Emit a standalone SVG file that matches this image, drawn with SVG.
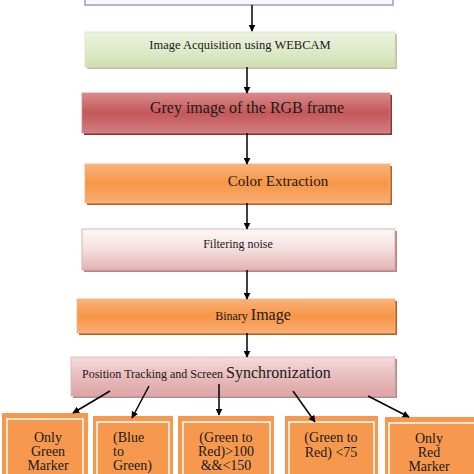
<svg xmlns="http://www.w3.org/2000/svg" width="474" height="474" viewBox="0 0 474 474">
<defs>
<linearGradient id="gGreen" x1="0" y1="0" x2="0" y2="1"><stop offset="0" stop-color="#edf3e1"/><stop offset="0.6" stop-color="#dde8c6"/><stop offset="1" stop-color="#cfdeaf"/></linearGradient>
<linearGradient id="gRed" x1="0" y1="0" x2="0" y2="1"><stop offset="0" stop-color="#d98a89"/><stop offset="0.5" stop-color="#c4575a"/><stop offset="1" stop-color="#d27d7e"/></linearGradient>
<linearGradient id="gOrange" x1="0" y1="0" x2="0" y2="1"><stop offset="0" stop-color="#fab27c"/><stop offset="0.5" stop-color="#f79646"/><stop offset="1" stop-color="#f9ad74"/></linearGradient>
<linearGradient id="gPink" x1="0" y1="0" x2="0" y2="1"><stop offset="0" stop-color="#fdf8f8"/><stop offset="0.5" stop-color="#f4dede"/><stop offset="1" stop-color="#e4b2b3"/></linearGradient>
<linearGradient id="gPink2" x1="0" y1="0" x2="0" y2="1"><stop offset="0" stop-color="#f5dcdc"/><stop offset="0.5" stop-color="#e8bcbd"/><stop offset="1" stop-color="#dea5a6"/></linearGradient>
<marker id="ah" viewBox="0 0 10 10" refX="9" refY="5" markerWidth="7" markerHeight="7" orient="auto" markerUnits="userSpaceOnUse"><path d="M0,0 L10,5 L0,10 z" fill="#000"/></marker>
</defs>
<style>
text{font-family:"Liberation Serif","Times New Roman",serif;fill:#1a1a1a}
.c{text-anchor:middle}
.arr{stroke:#000;stroke-width:1.5;fill:none;marker-end:url(#ah)}
.leaf{fill:#f6994f}
.inner{fill:none;stroke:#ffffff;stroke-width:1.5}
</style>
<rect width="474" height="474" fill="#ffffff"/>
<g id="n0">
<rect x="85" y="-20" width="308" height="25" fill="#f6f6fc" stroke="#9a9ac4" stroke-width="1.5"/>
</g>
<g id="n1">
<rect x="87" y="34" width="310" height="35" fill="#b9c69e"/>
<rect x="85" y="32" width="310" height="35" fill="url(#gGreen)" stroke="#d6e2bd" stroke-width="0.8"/>
<text x="240" y="49" class="c" font-size="12.5">Image Acquisition using WEBCAM</text>
</g>
<g id="n2">
<rect x="84" y="95" width="308" height="40" fill="#8e3434"/>
<rect x="82" y="93" width="308" height="40" fill="url(#gRed)" stroke="#d68a8a" stroke-width="0.8"/>
<text x="247" y="113" class="c" font-size="16">Grey image of the RGB frame</text>
</g>
<g id="n3">
<rect x="87" y="166" width="305" height="39" fill="#b86224"/>
<rect x="85" y="164" width="305" height="39" fill="url(#gOrange)" stroke="#f8b47e" stroke-width="0.8"/>
<text x="278" y="186" class="c" font-size="15">Color Extraction</text>
</g>
<g id="n4">
<rect x="84" y="231" width="313" height="41" fill="#b98787"/>
<rect x="82" y="229" width="313" height="41" fill="url(#gPink)" stroke="#dca3a4" stroke-width="0.8"/>
<text x="238" y="248" class="c" font-size="12">Filtering noise</text>
</g>
<g id="n5">
<rect x="79" y="301" width="318" height="34" fill="#b86224"/>
<rect x="77" y="299" width="318" height="34" fill="url(#gOrange)" stroke="#f8b47e" stroke-width="0.8"/>
<text x="253" y="320" class="c" font-size="12">Binary <tspan font-size="16">Image</tspan></text>
</g>
<g id="n6">
<rect x="73" y="359" width="324" height="39" fill="#b88c8c"/>
<rect x="71" y="357" width="324" height="39" fill="url(#gPink2)" stroke="#e2b0b1" stroke-width="0.8"/>
<text x="82" y="378" font-size="12">Position Tracking and Screen <tspan font-size="16">Synchronization</tspan></text>
</g>
<g id="n7">
<rect x="2" y="413" width="86" height="70" class="leaf"/>
<rect x="7" y="419" width="76" height="60" class="inner"/>
<text class="c" font-size="14"><tspan x="48" y="442">Only</tspan><tspan x="48" y="456">Green</tspan><tspan x="48" y="470">Marker</tspan></text>
</g>
<g id="n8">
<rect x="93" y="416" width="80" height="70" class="leaf"/>
<rect x="97" y="422" width="72" height="60" class="inner"/>
<text font-size="14"><tspan x="113" y="442">(Blue</tspan><tspan x="113" y="456">to</tspan><tspan x="113" y="470">Green)</tspan></text>
</g>
<g id="n9">
<rect x="178" y="416" width="96" height="70" class="leaf"/>
<rect x="183" y="422" width="87" height="60" class="inner"/>
<text class="c" font-size="14"><tspan x="226" y="442">(Green to</tspan><tspan x="226" y="456">Red)&gt;100</tspan><tspan x="226" y="470">&amp;&amp;&lt;150</tspan></text>
</g>
<g id="n10">
<rect x="285" y="416" width="93" height="70" class="leaf"/>
<rect x="289" y="422" width="85" height="60" class="inner"/>
<text class="c" font-size="14"><tspan x="331" y="442">(Green to</tspan><tspan x="331" y="457">Red) &lt;75</tspan></text>
</g>
<g id="n11">
<rect x="385" y="417" width="95" height="70" class="leaf"/>
<rect x="389" y="423" width="90" height="60" class="inner"/>
<text class="c" font-size="14"><tspan x="429" y="443">Only</tspan><tspan x="429" y="457">Red</tspan><tspan x="429" y="471">Marker</tspan></text>
</g>
<g id="connectors">
<line x1="252" y1="5" x2="252" y2="31" class="arr"/>
<line x1="247" y1="67" x2="247" y2="93" class="arr"/>
<line x1="247" y1="133" x2="247" y2="164" class="arr"/>
<line x1="247" y1="203" x2="247" y2="229" class="arr"/>
<line x1="247" y1="270" x2="247" y2="299" class="arr"/>
<line x1="247" y1="333" x2="247" y2="357" class="arr"/>
<line x1="110" y1="391" x2="73" y2="413" class="arr"/>
<line x1="149" y1="386" x2="132" y2="418" class="arr"/>
<line x1="219" y1="384" x2="219" y2="415" class="arr"/>
<line x1="293" y1="391" x2="315" y2="422" class="arr"/>
<line x1="368" y1="396" x2="409" y2="417" class="arr"/>
</g>
</svg>
